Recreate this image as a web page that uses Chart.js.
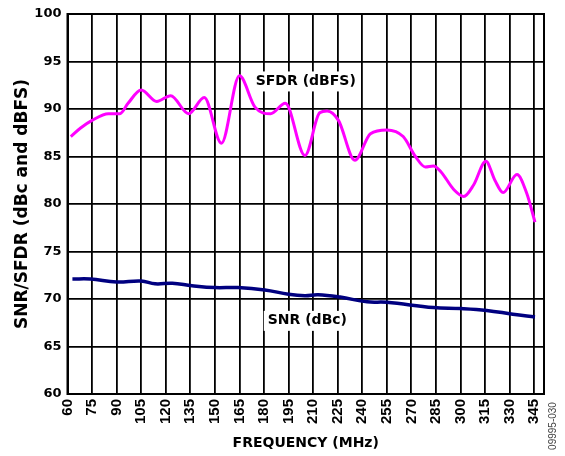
<!DOCTYPE html>
<html>
<head>
<meta charset="utf-8">
<script src="https://cdn.jsdelivr.net/npm/chart.js@4/dist/chart.umd.min.js"></script>
<style>
  html, body { margin: 0; padding: 0; background: #fff; }
  #wrap { width: 565px; height: 456px; }
</style>
</head>
<body>
<div id="wrap"><canvas id="chart" width="565" height="456"></canvas></div>
<script>
// frequency ticks (MHz) and level ticks (dB)
const xTicks = [60, 75, 90, 105, 120, 135, 150, 165, 180, 195, 210, 225, 240, 255, 270, 285, 300, 315, 330, 345];
const yTicks = [60, 65, 70, 75, 80, 85, 90, 95, 100];

// SFDR (dBFS)
const sfdrFreq = [62, 68, 75, 85, 92, 97, 105, 114.5, 123, 134, 143.5, 154, 165, 174.5, 184, 193, 205, 214, 218.5, 225.5, 235.5, 245, 255, 265, 272.5, 278.5, 283.5, 288, 296, 302, 308, 315.5, 321, 326, 334.5, 340.5, 345.5];
const sfdrVals = [87.1, 88.0, 88.8, 89.5, 89.5, 90.6, 92.0, 90.8, 91.4, 89.5, 91.2, 86.4, 93.5, 90.2, 89.5, 90.6, 85.1, 89.6, 89.8, 88.8, 84.6, 87.4, 87.8, 87.1, 85.0, 83.9, 84.0, 83.4, 81.5, 80.8, 82.0, 84.5, 82.5, 81.2, 83.1, 81.1, 78.1];

// SNR (dBc)
const snrFreq = [63, 74, 90, 105, 113.5, 124, 136, 150, 164, 180.5, 195, 205, 213, 226.5, 243, 255, 283.5, 300, 316, 332, 345.5];
const snrVals = [72.1, 72.1, 71.8, 71.9, 71.6, 71.65, 71.4, 71.2, 71.2, 70.95, 70.5, 70.35, 70.45, 70.2, 69.7, 69.65, 69.1, 69.0, 68.8, 68.4, 68.1];

const toPts = (xs, ys) => xs.map((x, i) => ({ x: x, y: ys[i] }));

const ARIAL = '"Liberation Sans", Arial, sans-serif';
const WIDE = '"DejaVu Sans", sans-serif';

// labels on the plot, frame, and the figure number
const extras = {
    id: 'extras',
    afterDatasetsDraw(chart) {
        const { ctx, chartArea: a, scales: { x, y } } = chart;
        ctx.save();
        ctx.strokeStyle = '#000';
        ctx.lineWidth = 2;
        ctx.strokeRect(a.left, a.top, a.right - a.left, a.bottom - a.top);

        ctx.font = 'bold 14px ' + WIDE;
        ctx.textAlign = 'center';
        ctx.textBaseline = 'middle';
        const tag = (txt, fx, fy) => {
            const px = x.getPixelForValue(fx), py = y.getPixelForValue(fy);
            const w = ctx.measureText(txt).width;
            ctx.fillStyle = '#fff';
            ctx.fillRect(px - w / 2 - 4, py - 10, w + 8, 20);
            ctx.fillStyle = '#000';
            ctx.fillText(txt, px, py);
        };
        tag('SFDR (dBFS)', 205.5, 92.9);
        tag('SNR (dBc)', 206.5, 67.7);

        ctx.font = '10px ' + ARIAL;
        ctx.fillStyle = '#444';
        ctx.translate(553, 426);
        ctx.rotate(-Math.PI / 2);
        ctx.fillText('09995-030', 0, 0);
        ctx.restore();
    }
};

new Chart(document.getElementById('chart'), {
    type: 'line',
    data: {
        datasets: [
            {
                label: 'SFDR (dBFS)',
                data: toPts(sfdrFreq, sfdrVals),
                borderColor: '#ff00ff',
                borderWidth: 3,
                pointRadius: 0,
                tension: 0.4,
                cubicInterpolationMode: 'monotone'
            },
            {
                label: 'SNR (dBc)',
                data: toPts(snrFreq, snrVals),
                borderColor: '#000080',
                borderWidth: 3.5,
                pointRadius: 0,
                tension: 0.4
            }
        ]
    },
    options: {
        responsive: false,
        animation: false,
        layout: { padding: { top: 14, right: 21, left: 12, bottom: 0 } },
        plugins: {
            legend: { display: false },
            tooltip: { enabled: false }
        },
        scales: {
            x: {
                type: 'linear',
                min: 60,
                max: 351,
                afterBuildTicks: s => { s.ticks = xTicks.map(v => ({ value: v })); },
                afterFit: s => { s.height = 62; },
                grid: { color: '#000', lineWidth: 1.8, drawTicks: false },
                border: { color: '#000', width: 2 },
                ticks: {
                    color: '#000',
                    font: { family: ARIAL, size: 15, weight: 'bold' },
                    minRotation: 90,
                    maxRotation: 90,
                    padding: 5,
                    autoSkip: false
                },
                title: {
                    display: true,
                    text: 'FREQUENCY (MHz)',
                    color: '#000',
                    font: { family: WIDE, size: 14, weight: 'bold' },
                    padding: { top: 0, bottom: 4 }
                }
            },
            y: {
                min: 60,
                max: 100,
                afterBuildTicks: s => { s.ticks = yTicks.map(v => ({ value: v })); },
                afterFit: s => { s.width = 55.5; },
                grid: { color: '#000', lineWidth: 1.8, drawTicks: false },
                border: { color: '#000', width: 2 },
                ticks: {
                    color: '#000',
                    font: { family: WIDE, size: 13, weight: 'bold' },
                    padding: 6
                },
                title: {
                    display: true,
                    text: 'SNR/SFDR (dBc and dBFS)',
                    color: '#000',
                    font: { family: WIDE, size: 17, weight: 'bold' },
                    padding: { top: 0, bottom: 4 }
                }
            }
        }
    },
    plugins: [extras]
});
</script>
</body>
</html>
